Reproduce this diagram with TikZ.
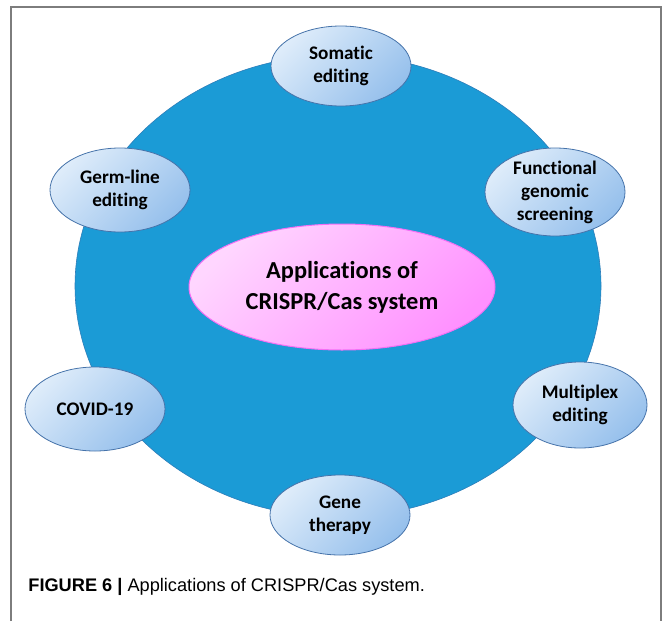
\documentclass[tikz,border=0pt]{standalone}
\usepackage{fontspec}
\setmainfont{Liberation Sans}
\newfontfamily\calibri[Ligatures=NoCommon]{Carlito}
\usetikzlibrary{shapes.geometric,positioning}

\definecolor{ringblue}{RGB}{27,155,214}
\definecolor{ringedge}{RGB}{45,125,185}
\definecolor{appedge}{RGB}{70,115,170}
\definecolor{applight}{RGB}{222,236,250}
\definecolor{appdark}{RGB}{150,192,236}
\definecolor{hublight}{RGB}{255,214,255}
\definecolor{hubdark}{RGB}{255,145,255}
\definecolor{hubedge}{RGB}{245,110,245}
\definecolor{framegray}{RGB}{125,125,125}

\tikzset{
  appnode/.style={ellipse, draw=appedge, line width=0.4pt,
    top color=applight, bottom color=appdark, shading angle=45,
    inner sep=-8pt, align=center,
    font=\calibri\bfseries\fontsize{9.6}{11.5}\selectfont},
  hubnode/.style={ellipse, draw=hubedge, line width=0.5pt,
    top color=hublight, bottom color=hubdark, shading angle=45,
    inner sep=-8pt, align=center,
    font=\calibri\bfseries\fontsize{12.2}{15.5}\selectfont}
}

\begin{document}
\begin{tikzpicture}[x=0.5pt,y=-0.5pt]
\useasboundingbox (0,0) rectangle (663,621);
\draw [framegray, line width=0.8pt] (11,621) -- (11,7) -- (661,7) -- (661,621);

% big disc
\node [ellipse, fill=ringblue, draw=ringedge, line width=0.3pt, inner sep=0pt,
  minimum width=263pt, minimum height=231pt] (ring) at (338,286) {};

% centre
\node [hubnode, minimum width=153pt, minimum height=63pt] (hub) at (342,287) {Applications of\\CRISPR/Cas system};

% applications round the disc
\node [appnode, minimum width=70pt, minimum height=40pt] (somatic) at (341,66) {Somatic\\editing};
\node [appnode, minimum width=70pt, minimum height=44pt] (functional) at (555,192) {Functional\\genomic\\screening};
\node [appnode, minimum width=67pt, minimum height=43pt] (multiplex) at (580,405) {Multiplex\\editing};
\node [appnode, minimum width=70pt, minimum height=40pt] (gene) at (340,515) {Gene\\therapy};
\node [appnode, minimum width=70pt, minimum height=42pt] (covid) at (95,409) {COVID-19};
\node [appnode, minimum width=70pt, minimum height=42pt] (germline) at (120,190) {Germ-line\\editing};

% caption
\node [anchor=west, inner sep=0pt, font=\fontsize{9.1}{11}\selectfont] (caption) at (28,587)
  {\textbf{FIGURE 6 |} Applications of CRISPR/Cas system.};
\end{tikzpicture}
\end{document}
